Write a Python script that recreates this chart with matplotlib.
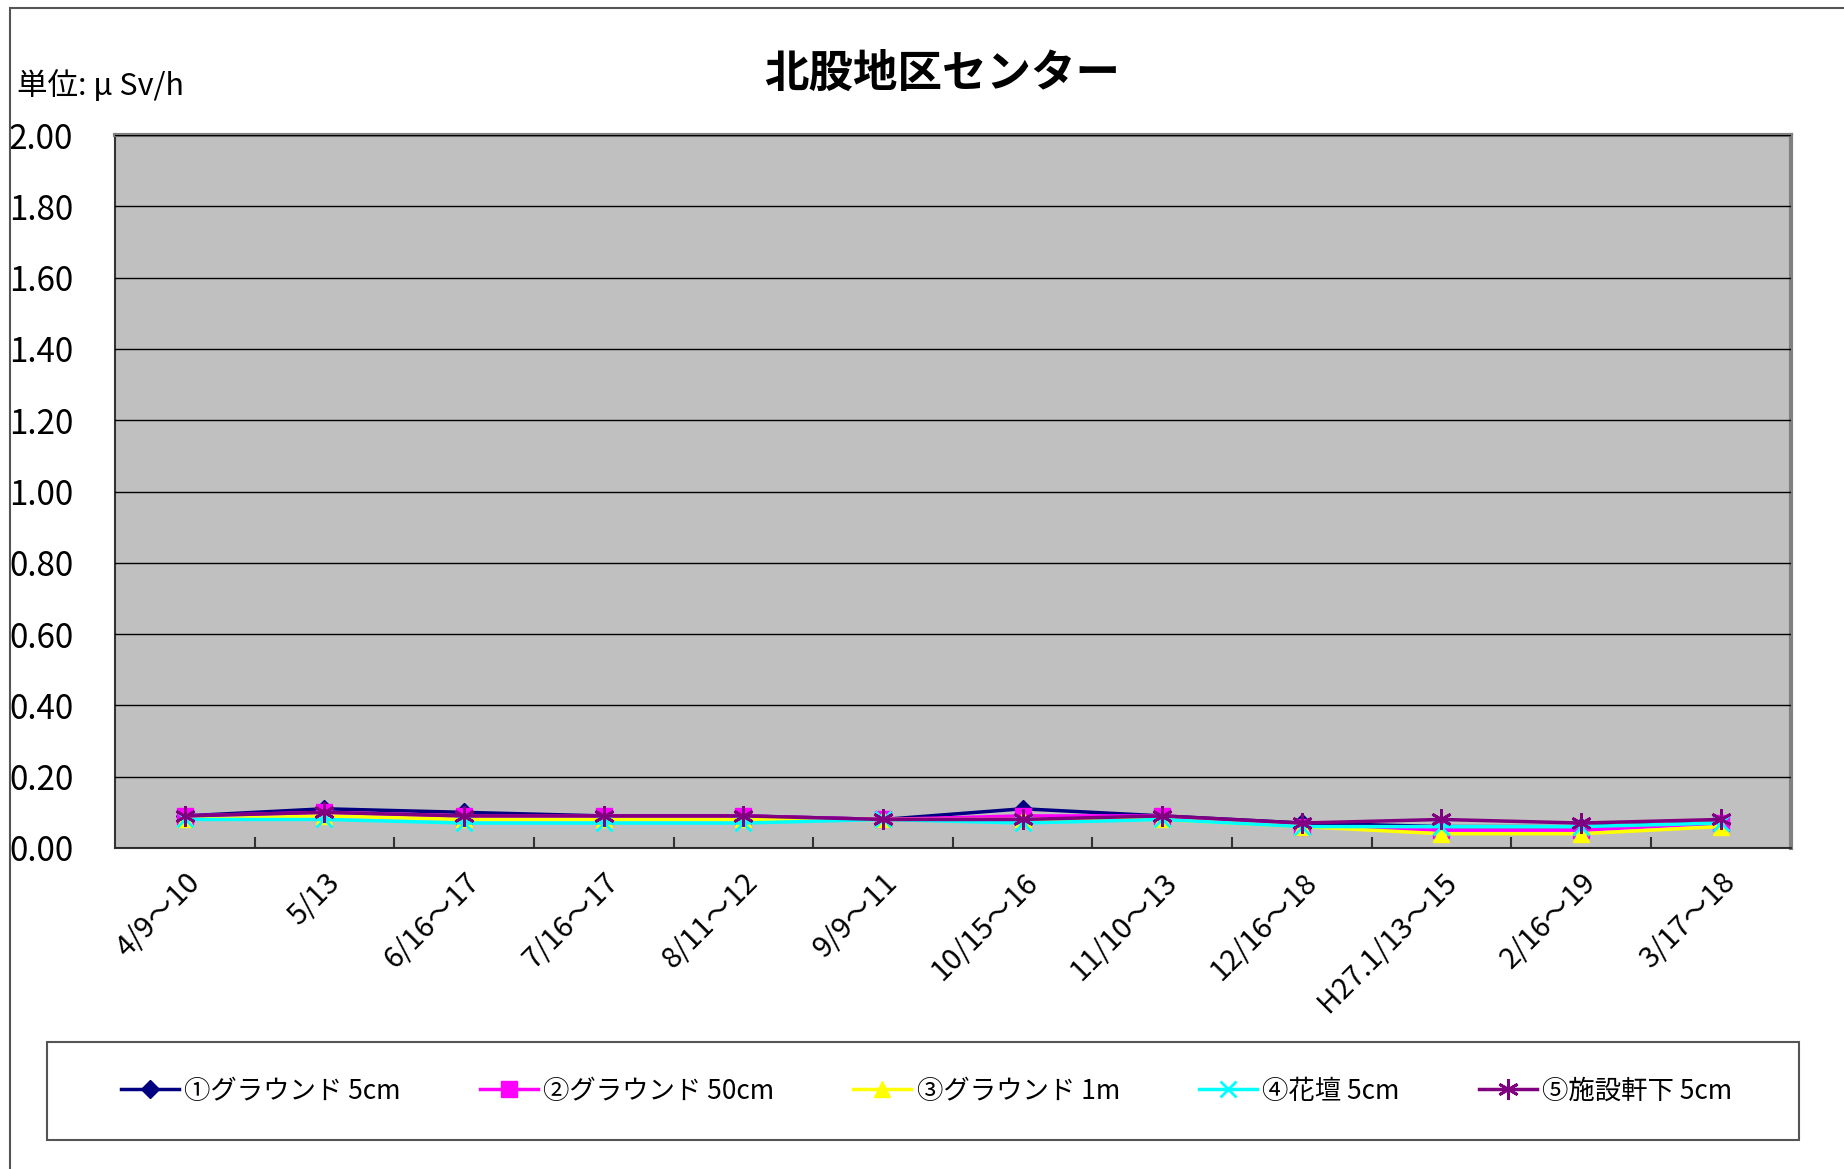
import numpy as np
import matplotlib
matplotlib.use("Agg")
from matplotlib import pyplot as plt
from matplotlib.patches import Rectangle

plt.rcParams['font.family'] = ['Noto Sans CJK JP', 'DejaVu Sans']

# donnees
dates = ["4/9～10", "5/13", "6/16～17", "7/16～17", "8/11～12", "9/9～11",
         "10/15～16", "11/10～13", "12/16～18", "H27.1/13～15", "2/16～19", "3/17～18"]
ground_5cm = [0.09, 0.11, 0.10, 0.09, 0.09, 0.08, 0.11, 0.09, 0.07, 0.06, 0.06, 0.07]
ground_50cm = [0.09, 0.10, 0.09, 0.09, 0.09, 0.08, 0.09, 0.09, 0.06, 0.05, 0.05, 0.07]
ground_1m = [0.08, 0.09, 0.08, 0.08, 0.08, 0.08, 0.08, 0.08, 0.06, 0.04, 0.04, 0.06]
flower_5cm = [0.08, 0.08, 0.07, 0.07, 0.07, 0.08, 0.07, 0.08, 0.06, 0.06, 0.06, 0.07]
eaves_5cm = [0.09, 0.10, 0.09, 0.09, 0.09, 0.08, 0.08, 0.09, 0.07, 0.08, 0.07, 0.08]

labels = ["①グラウンド 5cm", "②グラウンド 50cm", "③グラウンド 1m", "④花壇 5cm", "⑤施設軒下 5cm"]
yticks = [0.0, 0.2, 0.4, 0.6, 0.8, 1.0, 1.2, 1.4, 1.6, 1.8, 2.0]

fig = plt.figure(figsize=(18.44, 11.69), dpi=100)
ax = fig.add_axes([0.0624, 0.2746, 0.9086, 0.6099])
ax.set_facecolor("#C0C0C0")

x = np.arange(len(dates))
ax.plot(x, ground_5cm, color="#000080", marker="D", markersize=9, lw=2.5, label=labels[0])
ax.plot(x, ground_50cm, color="#FF00FF", marker="s", markersize=11, lw=2.5, label=labels[1])
ax.plot(x, ground_1m, color="#FFFF00", marker="^", markersize=12, lw=2.5, label=labels[2])
ax.plot(x, flower_5cm, color="#00FFFF", marker="x", markersize=11, mew=2, lw=2.5, label=labels[3])
ax.plot(x, eaves_5cm, color="#800080", marker=(6, 2, 0), markersize=15, mew=2, lw=2.5, label=labels[4])

ax.set_xlim(-0.5, len(dates) - 0.5)
ax.set_ylim(0, 2.0)
ax.set_yticks(yticks)
ax.set_yticklabels(["%.2f" % v for v in yticks], fontsize=24)
ax.yaxis.grid(True, color="black", lw=1)
ax.set_axisbelow(False)
ax.tick_params(axis="y", length=0, pad=30)

ax.set_xticks(x)
ax.set_xticklabels(dates, rotation=45, ha="right", rotation_mode="anchor", fontsize=21)
ax.tick_params(axis="x", which="major", length=0, pad=14)
ax.set_xticks(np.arange(0.5, len(dates) - 1, 1.0), minor=True)
ax.tick_params(axis="x", which="minor", direction="in", length=8, color="#333333", width=1.5)

for s in ["left", "bottom"]:
    ax.spines[s].set_color("#333333")
    ax.spines[s].set_linewidth(1.5)
for s in ["top", "right"]:
    ax.spines[s].set_color("#808080")
    ax.spines[s].set_linewidth(3)

fig.text(0.511, 0.937, "北股地区センター", ha="center", va="center", fontsize=32, fontweight="bold")
fig.text(0.009, 0.926, "単位: μ Sv/h", ha="left", va="center", fontsize=22)

# cadre exterieur
fig.patches.append(Rectangle((0.0055, -0.01), 1.1, 1.003, transform=fig.transFigure,
                             fill=False, ec="#555555", lw=1.5))
# cadre de la legende
fig.patches.append(Rectangle((0.0255, 0.0248), 0.9501, 0.0838, transform=fig.transFigure,
                             fill=False, ec="#555555", lw=1.5))

leg = fig.legend(loc="center", bbox_to_anchor=(0.5025, 0.0667), ncol=5,
                 fontsize=19, frameon=False, handlelength=2.2, handletextpad=0.2,
                 columnspacing=3.0)

fig.savefig("out.png", dpi=100)
